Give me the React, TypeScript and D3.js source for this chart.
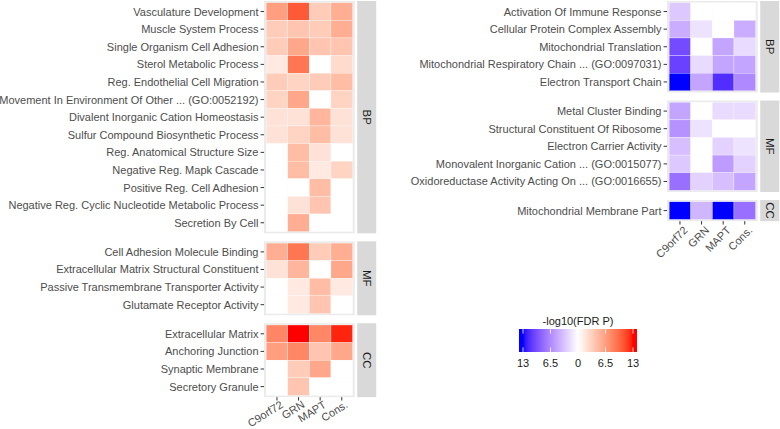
import React from "react";
import * as d3 from "d3";

const columns = ["C9orf72", "GRN", "MAPT", "Cons."];

// Left (up-regulated, red) panels
const leftBPTerms = [
  "Vasculature Development",
  "Muscle System Process",
  "Single Organism Cell Adhesion",
  "Sterol Metabolic Process",
  "Reg. Endothelial Cell Migration",
  "Movement In Environment Of Other ... (GO:0052192)",
  "Divalent Inorganic Cation Homeostasis",
  "Sulfur Compound Biosynthetic Process",
  "Reg. Anatomical Structure Size",
  "Negative Reg. Mapk Cascade",
  "Positive Reg. Cell Adhesion",
  "Negative Reg. Cyclic Nucleotide Metabolic Process",
  "Secretion By Cell",
];
const leftBPValues = [
  [6.5, 10.5, 3.5, 5.5],
  [3.5, 4, 3.5, 5.5],
  [3.5, 6, 4, 4],
  [1.5, 9, 0, 2.5],
  [3.5, 3, 3.5, 4.5],
  [3, 6, 0, 3],
  [2, 2, 5, 2],
  [2, 3, 4.5, 2],
  [0, 4.5, 2, 0],
  [0, 4.5, 1.5, 3],
  [0, 0, 4.5, 0],
  [0, 2, 4, 0],
  [0, 5.5, 0, 0],
];
const leftMFTerms = [
  "Cell Adhesion Molecule Binding",
  "Extracellular Matrix Structural Constituent",
  "Passive Transmembrane Transporter Activity",
  "Glutamate Receptor Activity",
];
const leftMFValues = [
  [5.5, 9, 3.5, 5.5],
  [2, 5, 0, 6],
  [0, 1.5, 4.5, 1.5],
  [0, 1.5, 4, 0],
];
const leftCCTerms = [
  "Extracellular Matrix",
  "Anchoring Junction",
  "Synaptic Membrane",
  "Secretory Granule",
];
const leftCCValues = [
  [8, 13, 8, 12.5],
  [6.5, 8, 4, 6],
  [0, 3.5, 6, 0],
  [0, 4, 0, 0],
];

// Right (down-regulated, blue) panels
const rightBPTerms = [
  "Activation Of Immune Response",
  "Cellular Protein Complex Assembly",
  "Mitochondrial Translation",
  "Mitochondrial Respiratory Chain ... (GO:0097031)",
  "Electron Transport Chain",
];
const rightBPValues = [
  [-3, 0, 0, 0],
  [-4.5, -1.5, 0, -4.5],
  [-10, 0, -5, -2],
  [-10.5, -2, -5, -5],
  [-13, -5, -11.5, -6.5],
];
const rightMFTerms = [
  "Metal Cluster Binding",
  "Structural Constituent Of Ribosome",
  "Electron Carrier Activity",
  "Monovalent Inorganic Cation ... (GO:0015077)",
  "Oxidoreductase Activity Acting On ... (GO:0016655)",
];
const rightMFValues = [
  [-5, 0, -2, -2],
  [-6, -1.5, 0, 0],
  [-3.5, 0, -2.5, -1.5],
  [-3, 0, -5.5, -2.5],
  [-8, -2.5, -3.5, -5],
];
const rightCCTerms = ["Mitochondrial Membrane Part"];
const rightCCValues = [[-13, -4, -13, -8]];

const legendTicks = [-13, -6.5, 0, 6.5, 13];
const legendTitle = "-log10(FDR P)";

const FONT = "'Liberation Sans', Arial, Helvetica, sans-serif";

const color = d3
  .scaleLinear<string>()
  .domain([-13, 0, 13])
  .range(["#0000FF", "#FFFFFF", "#FF0000"])
  .interpolate(d3.interpolateLab)
  .clamp(true);

const unitY = 17.6;
const gapY = 8;
const panelTop = 1.0;
const unitX = 21.6;
const panelW = 4.2 * unitX;

type Facet = { label: string; terms: string[]; values: number[][] };

function Column({
  x0,
  facets,
  angle,
  labelOffset,
}: {
  x0: number;
  facets: Facet[];
  angle: number;
  labelOffset: number;
}) {
  const xScale = d3
    .scaleBand<string>()
    .domain(columns)
    .range([x0, x0 + panelW])
    .paddingInner(0)
    .paddingOuter(0.1);
  let y = panelTop;
  const out: React.ReactNode[] = [];
  facets.forEach((f, fi) => {
    const h = (f.terms.length + 0.2) * unitY;
    const yScale = d3
      .scaleBand<string>()
      .domain(f.terms)
      .range([y, y + h])
      .paddingInner(0)
      .paddingOuter(0.1);
    const top = y;
    out.push(
      <g key={fi}>
        <rect x={x0} y={top} width={panelW} height={h} fill="#EBEBEB" />
        {f.terms.map((t, ri) =>
          columns.map((c, ci) => (
            <rect
              key={t + c}
              x={xScale(c)}
              y={yScale(t)}
              width={xScale.bandwidth()}
              height={yScale.bandwidth()}
              fill={color(f.values[ri][ci])}
              stroke="#FFFFFF"
              strokeWidth={0.3}
            />
          ))
        )}
        {f.terms.map((t) => {
          const cy = (yScale(t) as number) + yScale.bandwidth() / 2;
          return (
            <g key={"l" + t}>
              <line x1={x0 - 3.4} x2={x0} y1={cy} y2={cy} stroke="#333333" strokeWidth={1} />
              <text
                x={x0 - 5.5}
                y={cy}
                dy="0.36em"
                textAnchor="end"
                fontSize={11}
                fill="#4D4D4D"
                fontFamily={FONT}
              >
                {t}
              </text>
            </g>
          );
        })}
        <rect x={x0 + panelW + 2.5} y={top} width={19} height={h} fill="#D9D9D9" />
        <text
          transform={`translate(${x0 + panelW + 2.5 + 9.5},${top + h / 2}) rotate(90)`}
          textAnchor="middle"
          dy="0.36em"
          fontSize={11.5}
          fill="#1A1A1A"
          fontFamily={FONT}
        >
          {f.label}
        </text>
      </g>
    );
    y = y + h + gapY;
  });
  const bottom = y - gapY;
  out.push(
    <g key="xaxis">
      {columns.map((c) => {
        const cx = (xScale(c) as number) + xScale.bandwidth() / 2;
        return (
          <g key={c}>
            <line x1={cx} x2={cx} y1={bottom} y2={bottom + 3.4} stroke="#333333" strokeWidth={1} />
            <text
              transform={`translate(${cx + 2.5},${bottom + labelOffset}) rotate(${-angle})`}
              textAnchor="end"
              dy="0.75em"
              fontSize={11}
              fill="#4D4D4D"
              fontFamily={FONT}
            >
              {c}
            </text>
          </g>
        );
      })}
    </g>
  );
  return <g>{out}</g>;
}

function Legend() {
  const barX0 = 519;
  const barX1 = 637;
  const barY = 329;
  const barH = 23;
  const lx = d3.scaleLinear().domain([-13, 13]).range([523, 633]);
  const n = 60;
  const stops = d3.range(n + 1).map((i) => i / n);
  return (
    <g>
      <defs>
        <linearGradient id="lg" x1={0} x2={1} y1={0} y2={0}>
          {stops.map((s) => {
            const px = barX0 + s * (barX1 - barX0);
            return <stop key={s} offset={s} stopColor={color(lx.invert(px))} />;
          })}
        </linearGradient>
      </defs>
      <text
        x={578}
        y={325}
        textAnchor="middle"
        fontSize={11}
        fill="#1A1A1A"
        fontFamily={FONT}
      >
        {legendTitle}
      </text>
      <rect x={barX0} y={barY} width={barX1 - barX0} height={barH} fill="url(#lg)" />
      {legendTicks.map((t) => (
        <g key={t}>
          <line x1={lx(t)} x2={lx(t)} y1={barY} y2={barY + 4.6} stroke="#FFFFFF" strokeWidth={0.8} />
          <line x1={lx(t)} x2={lx(t)} y1={barY + barH - 4.6} y2={barY + barH} stroke="#FFFFFF" strokeWidth={0.8} />
          <text
            x={lx(t)}
            y={barY + barH + 11}
            dy="0.36em"
            textAnchor="middle"
            fontSize={11}
            fill="#1A1A1A"
            fontFamily={FONT}
          >
            {Math.abs(t)}
          </text>
        </g>
      ))}
    </g>
  );
}

export default function App() {
  const leftFacets: Facet[] = [
    { label: "BP", terms: leftBPTerms, values: leftBPValues },
    { label: "MF", terms: leftMFTerms, values: leftMFValues },
    { label: "CC", terms: leftCCTerms, values: leftCCValues },
  ];
  const rightFacets: Facet[] = [
    { label: "BP", terms: rightBPTerms, values: rightBPValues },
    { label: "MF", terms: rightMFTerms, values: rightMFValues },
    { label: "CC", terms: rightCCTerms, values: rightCCValues },
  ];
  return (
    <svg
      width={780}
      height={429}
      style={{ position: "absolute", left: 0, top: 0, background: "#FFFFFF" }}
    >
      <rect width={780} height={429} fill="#FFFFFF" />
      <Column x0={264} facets={leftFacets} angle={32} labelOffset={2.5} />
      <Column x0={667} facets={rightFacets} angle={45} labelOffset={4} />
      <Legend />
    </svg>
  );
}
